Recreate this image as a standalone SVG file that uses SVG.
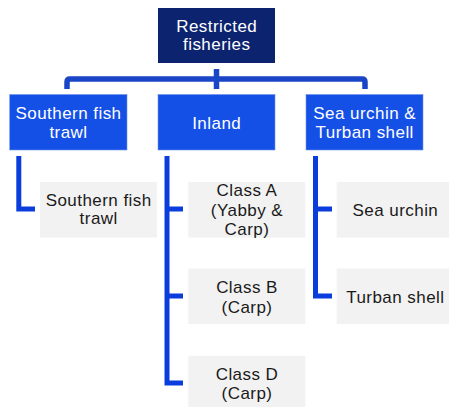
<svg xmlns="http://www.w3.org/2000/svg" width="449" height="407" viewBox="0 0 449 407">
<style>
text{font-family:"Liberation Sans",Arial,sans-serif;font-size:17px;letter-spacing:0.45px;text-anchor:middle}
.top rect{fill:#0c2470}
.l2 rect{fill:#1450e6;stroke:#6f93f0;stroke-width:0.6}
.l3 rect{fill:#f2f2f2}
.top text,.l2 text{fill:#ffffff}
.l3 text{fill:#1a1a1a}
.c1{fill:none;stroke:#1a45c6;stroke-width:5.5;stroke-linejoin:round}
.c2{fill:none;stroke:#0b3ddc;stroke-width:5}
</style>
<rect width="449" height="407" fill="#ffffff"/>
<g id="connectors">
<path class="c1" d="M67,89 V82 Q67,79 70,79 H362 Q365,79 365,82 V89"/>
<path class="c1" d="M216.5,69 V89"/>
<path class="c2" d="M18.8,156 V209 H35"/>
<path class="c2" d="M167,156 V383 H183 M167,209 H183 M167,296 H183"/>
<path class="c2" d="M315.5,156 V296 H332 M315.5,209 H332"/>
</g>
<g id="n-root" class="top">
<rect x="158" y="8" width="117" height="55"/>
<text x="216.7" y="31.7">Restricted</text>
<text x="216.7" y="50.3">fisheries</text>
</g>
<g id="n-southern" class="l2">
<rect x="9.7" y="94.5" width="117.3" height="55.5"/>
<text x="68.5" y="119">Southern fish</text>
<text x="68.5" y="137.7">trawl</text>
</g>
<g id="n-inland" class="l2">
<rect x="158" y="94.5" width="117" height="55.5"/>
<text x="216.7" y="129">Inland</text>
</g>
<g id="n-sea" class="l2">
<rect x="306" y="94.5" width="117" height="55.5"/>
<text x="364.7" y="119">Sea urchin &amp;</text>
<text x="364.7" y="137.7">Turban shell</text>
</g>
<g id="n-southern-trawl" class="l3">
<rect x="40" y="182" width="117" height="55.5"/>
<text x="98.7" y="205.7">Southern fish</text>
<text x="98.7" y="224.3">trawl</text>
</g>
<g id="n-class-a" class="l3">
<rect x="188.3" y="182" width="117" height="55.5"/>
<text x="247" y="195.7">Class A</text>
<text x="247" y="215.5">(Yabby &amp;</text>
<text x="247" y="235">Carp)</text>
</g>
<g id="n-class-b" class="l3">
<rect x="188.3" y="268.5" width="117" height="55.5"/>
<text x="247" y="292.7">Class B</text>
<text x="247" y="312.5">(Carp)</text>
</g>
<g id="n-class-d" class="l3">
<rect x="188.3" y="355.8" width="117" height="55.5"/>
<text x="247" y="380">Class D</text>
<text x="247" y="399.3">(Carp)</text>
</g>
<g id="n-sea-urchin" class="l3">
<rect x="336.7" y="182" width="117" height="55.5"/>
<text x="395.4" y="215.7">Sea urchin</text>
</g>
<g id="n-turban" class="l3">
<rect x="336.7" y="268.5" width="117" height="55.5"/>
<text x="395.4" y="302.7">Turban shell</text>
</g>
</svg>
